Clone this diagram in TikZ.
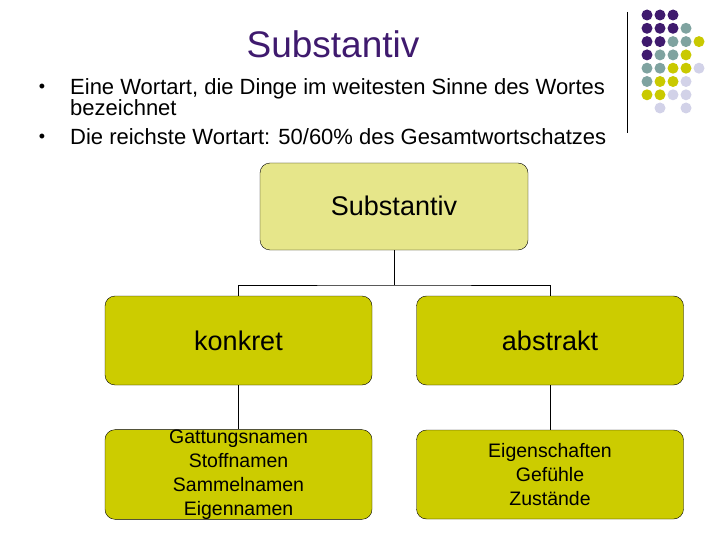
\documentclass[tikz,border=0pt]{standalone}
\usepackage{fontspec}
\setmainfont{Liberation Sans}
\definecolor{pp}{HTML}{3F1A6E}
\definecolor{tl}{HTML}{7FA3A0}
\definecolor{yl}{HTML}{C9C900}
\definecolor{lv}{HTML}{D2D2E8}
\definecolor{topf}{HTML}{E6E68A}
\definecolor{lowf}{HTML}{CCCC00}
\tikzset{
 box/.style={draw=black,rounded corners=10pt,minimum width=267pt,minimum height=89pt,align=center,inner sep=0pt},
 conn/.style={draw=black,line width=1pt},
 dot/.style={circle,inner sep=0pt,minimum size=11pt},
 big/.style={font=\fontsize{27}{27}\selectfont},
 small/.style={font=\fontsize{19.5}{24}\selectfont}
}
\begin{document}
\begin{tikzpicture}[x=1pt,y=-1pt]
\useasboundingbox (0,0) rectangle (720,540);
\node[font=\fontsize{37}{37}\selectfont,text=pp] (title) at (333,44) {Substantiv};
\node[font=\fontsize{18}{18}\selectfont] (b1) at (42,88) {\textbullet};
\node[font=\fontsize{18}{18}\selectfont] (b2) at (42,138) {\textbullet};
\node[anchor=north west,align=left,inner sep=0pt,font=\fontsize{22}{20.5}\selectfont] (t1) at (70,78) {Eine Wortart, die Dinge im weitesten Sinne des Wortes\\bezeichnet};
\node[anchor=north west,inner sep=0pt,font=\fontsize{22}{20}\selectfont] (t2) at (70,128) {Die reichste Wortart: 50/60\% des Gesamtwortschatzes};
\draw[line width=1pt] (627,12) -- (627,133);
\foreach \r/\row in {0/{pp,pp,pp},1/{pp,pp,pp,tl},2/{pp,pp,tl,tl,yl},3/{pp,tl,tl,yl},4/{tl,tl,yl,yl,lv},5/{tl,yl,yl,lv},6/{yl,yl,lv,lv}}{
  \foreach \c [count=\i from 0] in \row {\node[dot,fill=\c] (d\r\i) at (647+13*\i,15+13.3*\r) {};}}
\node[dot,fill=lv] (d71) at (660,108) {};
\node[dot,fill=lv] (d73) at (686,108) {};
\node[box,fill=topf,minimum width=268pt,minimum height=87pt] (top) at (394,206.5) {};
\node[big,anchor=north] (toplab) at (394,192) {Substantiv};
\node[box,fill=lowf,big] (k) at (238.5,340.5) {konkret};
\node[box,fill=lowf,big] (a) at (550,340.5) {abstrakt};
\node[box,fill=lowf,small] (kk) at (238.5,474.5) {Gattungsnamen\\Stoffnamen\\Sammelnamen\\Eigennamen};
\node[box,fill=lowf,small] (aa) at (550,474.5) {Eigenschaften\\Gefühle\\Zustände};
\coordinate (m) at (394,285);
\draw[conn] (top.south) -- (m);
\draw[conn] (k.north) |- (m) -| (a.north);
\draw[conn] (k) -- (kk);
\draw[conn] (a) -- (aa);
\end{tikzpicture}
\end{document}
